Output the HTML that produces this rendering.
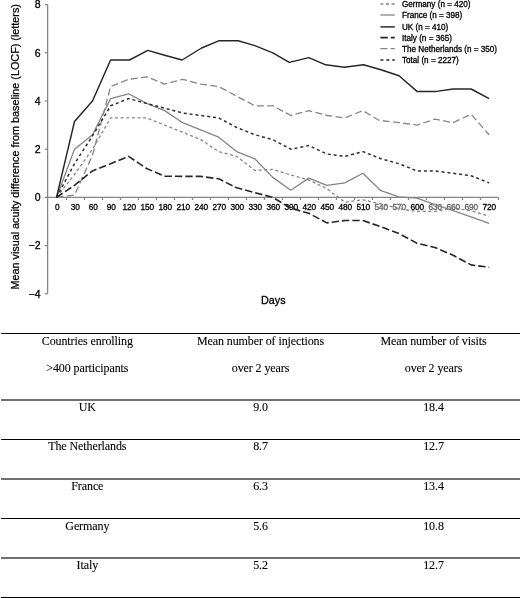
<!DOCTYPE html>
<html lang="en"><head><meta charset="utf-8"><title>Figure</title>
<style>
html,body{margin:0;padding:0;background:#fff;}
body{width:520px;height:598px;position:relative;overflow:hidden;font-family:"Liberation Serif","Times New Roman",serif;color:#000;}
.chart{position:absolute;left:0;top:0;display:block;}
.ln{position:absolute;left:1px;width:519px;}
.c{position:absolute;width:200px;text-align:center;font-size:12px;line-height:20px;letter-spacing:-0.1px;white-space:nowrap;-webkit-text-stroke:0.1px #000;}
</style></head><body>
<svg class="chart" width="520" height="320" viewBox="0 0 520 320" font-family="Liberation Sans, Arial, sans-serif">
<g stroke="#858585" stroke-width="1.3" fill="none">
<path d="M47.6 4.6V293.8"/>
<path d="M44.8 197.4H498.5"/>
<path d="M44.8 4.6H47.6"/>
<path d="M44.8 52.8H47.6"/>
<path d="M44.8 101.0H47.6"/>
<path d="M44.8 149.2H47.6"/>
<path d="M44.8 197.4H47.6"/>
<path d="M44.8 245.6H47.6"/>
<path d="M44.8 293.8H47.6"/>
<path d="M66.5 197.4v2.6"/>
<path d="M84.5 197.4v2.6"/>
<path d="M102.5 197.4v2.6"/>
<path d="M120.5 197.4v2.6"/>
<path d="M138.5 197.4v2.6"/>
<path d="M156.5 197.4v2.6"/>
<path d="M174.5 197.4v2.6"/>
<path d="M192.5 197.4v2.6"/>
<path d="M210.5 197.4v2.6"/>
<path d="M228.5 197.4v2.6"/>
<path d="M246.5 197.4v2.6"/>
<path d="M264.5 197.4v2.6"/>
<path d="M282.5 197.4v2.6"/>
<path d="M300.5 197.4v2.6"/>
<path d="M318.5 197.4v2.6"/>
<path d="M336.5 197.4v2.6"/>
<path d="M354.5 197.4v2.6"/>
<path d="M372.5 197.4v2.6"/>
<path d="M390.5 197.4v2.6"/>
<path d="M408.5 197.4v2.6"/>
<path d="M426.5 197.4v2.6"/>
<path d="M444.5 197.4v2.6"/>
<path d="M462.5 197.4v2.6"/>
<path d="M480.5 197.4v2.6"/>
<path d="M498.5 197.4v2.6"/>
</g>
<g font-size="10.5" fill="#000" stroke="#000" stroke-width="0.3" text-anchor="end">
<text x="40.6" y="8.4">8</text>
<text x="40.6" y="56.6">6</text>
<text x="40.6" y="104.8">4</text>
<text x="40.6" y="153.0">2</text>
<text x="40.6" y="201.2">0</text>
<text x="40.6" y="249.4">−2</text>
<text x="40.6" y="297.6">−4</text>
</g>
<g font-size="8.3" fill="#000" stroke="#000" stroke-width="0.3" text-anchor="middle">
<text x="57.3" y="209.5">0</text>
<text x="75.3" y="209.5">30</text>
<text x="93.3" y="209.5">60</text>
<text x="111.3" y="209.5">90</text>
<text x="129.3" y="209.5">120</text>
<text x="147.3" y="209.5">150</text>
<text x="165.3" y="209.5">180</text>
<text x="183.3" y="209.5">210</text>
<text x="201.3" y="209.5">240</text>
<text x="219.3" y="209.5">270</text>
<text x="237.3" y="209.5">300</text>
<text x="255.3" y="209.5">330</text>
<text x="273.3" y="209.5">360</text>
<text x="291.3" y="209.5">390</text>
<text x="309.3" y="209.5">420</text>
<text x="327.3" y="209.5">450</text>
<text x="345.3" y="209.5">480</text>
<text x="363.3" y="209.5">510</text>
<text x="381.3" y="209.5" fill="#606060" stroke="#606060">540</text>
<text x="399.3" y="209.5" fill="#606060" stroke="#606060">570</text>
<text x="417.3" y="209.5">600</text>
<text x="435.3" y="209.5" fill="#606060" stroke="#606060">630</text>
<text x="453.3" y="209.5" fill="#606060" stroke="#606060">660</text>
<text x="471.3" y="209.5" fill="#606060" stroke="#606060">690</text>
<text x="489.3" y="209.5">720</text>
</g>
<polyline points="56.5,197.4 74.5,174.5 92.5,149.2 110.6,117.9 128.6,117.9 146.6,117.9 164.6,125.1 182.7,132.3 200.7,139.6 218.7,151.6 236.7,156.4 254.8,170.4 272.8,169.4 290.8,175.0 308.8,180.0 326.9,188.7 344.9,202.2 362.9,199.8 380.9,203.9 399.0,208.7 417.0,211.4 435.0,211.4 453.0,208.0 471.1,210.7 489.1,216.2" fill="none" stroke="#858585" stroke-width="1.3" stroke-dasharray="3 2.6" stroke-linejoin="round"/>
<polyline points="56.5,197.4 74.5,149.2 92.5,134.7 110.6,98.6 128.6,93.8 146.6,103.4 164.6,110.6 182.7,122.7 200.7,129.9 218.7,137.2 236.7,151.6 254.8,158.8 272.8,177.4 290.8,190.2 308.8,178.1 326.9,185.3 344.9,182.9 362.9,173.3 380.9,190.7 399.0,196.9 417.0,198.1 435.0,204.6 453.0,210.7 471.1,216.9 489.1,223.4" fill="none" stroke="#858585" stroke-width="1.3" stroke-linejoin="round"/>
<polyline points="56.5,197.4 74.5,195.0 92.5,155.2 110.6,86.5 128.6,79.3 147.4,76.9 164.6,84.1 182.7,79.3 200.7,84.1 218.7,86.5 236.7,96.2 254.8,105.8 272.8,105.8 290.8,115.5 308.8,110.6 326.9,115.5 344.9,117.9 362.9,110.6 378.9,120.3 399.0,122.7 417.0,125.1 435.0,119.1 453.0,122.7 471.1,114.3 489.1,134.7" fill="none" stroke="#858585" stroke-width="1.3" stroke-dasharray="7 3.3" stroke-linejoin="round"/>
<polyline points="56.5,197.4 74.5,185.3 92.5,170.9 110.6,163.7 128.6,156.4 146.6,168.5 164.6,176.2 182.7,176.4 200.7,176.4 218.7,178.8 236.7,187.8 254.8,192.6 272.8,197.4 290.8,208.2 308.8,213.3 326.9,222.9 344.9,220.5 362.9,220.5 380.9,226.8 399.0,233.6 417.0,243.2 435.0,247.5 453.0,255.2 471.1,264.9 489.1,267.3" fill="none" stroke="#262626" stroke-width="1.6" stroke-dasharray="7.4 3" stroke-linejoin="round"/>
<polyline points="56.5,197.4 74.5,163.7 92.5,135.9 110.6,105.8 128.6,98.6 146.6,103.4 164.6,108.2 182.7,113.0 200.7,115.5 218.7,117.9 236.7,127.5 254.8,134.7 272.8,139.6 290.8,149.2 308.8,145.6 326.9,154.0 344.9,156.4 362.9,151.6 380.9,158.8 399.0,163.7 417.0,170.9 435.0,170.9 453.0,173.3 471.1,175.7 489.1,182.9" fill="none" stroke="#2e2e2e" stroke-width="1.5" stroke-dasharray="3 2.9" stroke-linejoin="round"/>
<polyline points="56.5,197.4 74.5,121.5 92.5,101.0 110.6,60.0 129.5,60.0 147.8,50.4 164.6,55.2 182.1,60.0 201.6,48.0 218.7,40.8 238.2,40.8 254.8,45.6 272.8,52.8 289.3,62.4 308.8,57.6 325.7,64.8 344.3,67.3 363.5,64.8 380.9,69.7 399.0,75.7 417.0,91.4 436.5,91.4 453.0,89.0 471.1,89.0 489.1,98.6" fill="none" stroke="#262626" stroke-width="1.45" stroke-linejoin="round"/>
<path d="M380.4 4.0H394.8" stroke="#858585" stroke-width="1.3" stroke-dasharray="3 2.6" fill="none"/>
<text x="402" y="7.0" font-size="8.15" fill="#000" stroke="#000" stroke-width="0.3">Germany (n = 420)</text>
<path d="M380.4 15.0H394.8" stroke="#858585" stroke-width="1.3" fill="none"/>
<text x="402" y="18.0" font-size="8.15" fill="#000" stroke="#000" stroke-width="0.3">France (n = 398)</text>
<path d="M380.4 26.9H394.8" stroke="#262626" stroke-width="1.45" fill="none"/>
<text x="402" y="29.9" font-size="8.15" fill="#000" stroke="#000" stroke-width="0.3">UK (n = 410)</text>
<path d="M380.4 37.6H394.8" stroke="#262626" stroke-width="1.6" stroke-dasharray="7.4 3" fill="none"/>
<text x="402" y="40.6" font-size="8.15" fill="#000" stroke="#000" stroke-width="0.3">Italy (n = 365)</text>
<path d="M380.4 48.6H394.8" stroke="#858585" stroke-width="1.3" stroke-dasharray="7 3.3" fill="none"/>
<text x="402" y="51.6" font-size="8.15" fill="#000" stroke="#000" stroke-width="0.3">The Netherlands (n = 350)</text>
<path d="M380.4 60.0H394.8" stroke="#2e2e2e" stroke-width="1.5" stroke-dasharray="3 2.9" fill="none"/>
<text x="402" y="63.0" font-size="8.15" fill="#000" stroke="#000" stroke-width="0.3">Total (n = 2227)</text>
<text transform="translate(19 146.8) rotate(-90)" text-anchor="middle" font-size="10.8" fill="#000" stroke="#000" stroke-width="0.25">Mean visual acuity difference from baseline (LOCF) (letters)</text>
<text x="273.3" y="304" text-anchor="middle" font-size="10.8" fill="#000" stroke="#000" stroke-width="0.3">Days</text>
</svg>
<div class="tbl">
<div class="ln" style="top:333px;height:1px;background:#000"></div>
<div class="ln" style="top:399px;height:2px;background:#707070"></div>
<div class="ln" style="top:439px;height:1px;background:#000"></div>
<div class="ln" style="top:478px;height:2px;background:#707070"></div>
<div class="ln" style="top:518px;height:1px;background:#000"></div>
<div class="ln" style="top:557px;height:2px;background:#707070"></div>
<div class="ln" style="top:597px;height:1px;background:#000"></div>
<div class="c" style="left:-12.7px;top:330.95px">Countries enrolling</div>
<div class="c" style="left:-12.7px;top:357.95px">&gt;400 participants</div>
<div class="c" style="left:160.5px;top:330.95px">Mean number of injections</div>
<div class="c" style="left:160.5px;top:357.95px">over 2 years</div>
<div class="c" style="left:333.5px;top:330.95px">Mean number of visits</div>
<div class="c" style="left:333.5px;top:357.95px">over 2 years</div>
<div class="c" style="left:-12.7px;top:396.95px">UK</div>
<div class="c" style="left:160.5px;top:396.95px">9.0</div>
<div class="c" style="left:333.5px;top:396.95px">18.4</div>
<div class="c" style="left:-12.7px;top:436.35px">The Netherlands</div>
<div class="c" style="left:160.5px;top:436.35px">8.7</div>
<div class="c" style="left:333.5px;top:436.35px">12.7</div>
<div class="c" style="left:-12.7px;top:475.75px">France</div>
<div class="c" style="left:160.5px;top:475.75px">6.3</div>
<div class="c" style="left:333.5px;top:475.75px">13.4</div>
<div class="c" style="left:-12.7px;top:515.65px">Germany</div>
<div class="c" style="left:160.5px;top:515.65px">5.6</div>
<div class="c" style="left:333.5px;top:515.65px">10.8</div>
<div class="c" style="left:-12.7px;top:554.55px">Italy</div>
<div class="c" style="left:160.5px;top:554.55px">5.2</div>
<div class="c" style="left:333.5px;top:554.55px">12.7</div>
</div>
</body></html>
